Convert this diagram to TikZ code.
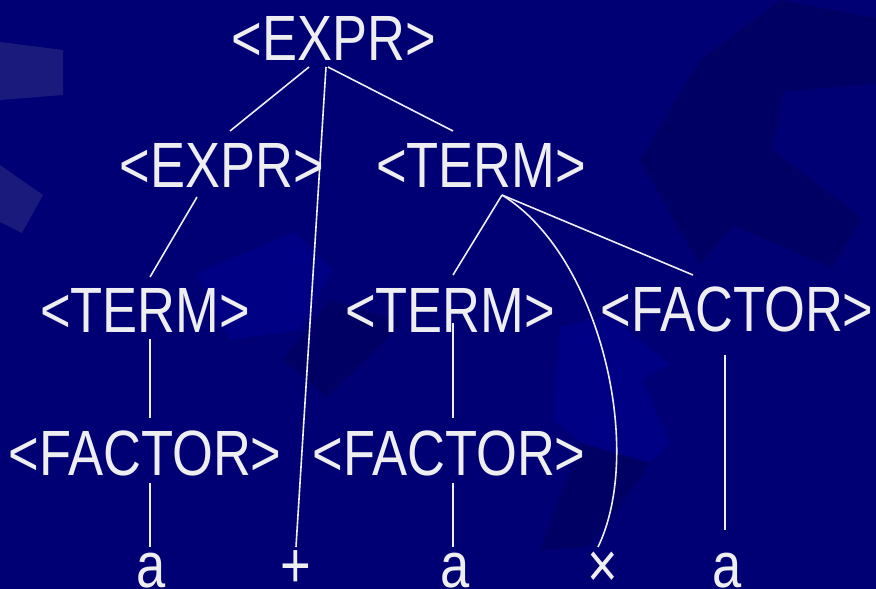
\documentclass[tikz,border=0pt]{standalone}
\usepackage{fontspec}
\usepackage{tikz}
\usetikzlibrary{calc}
\newfontfamily\slidefont[FakeStretch=0.82]{Liberation Sans}
\definecolor{slidebg}{RGB}{0,0,116}
\definecolor{slidedark}{RGB}{0,0,100}
\definecolor{slidelight}{RGB}{0,0,132}
\definecolor{slidegrey}{RGB}{26,26,124}
\definecolor{chalk}{RGB}{238,238,240}
\tikzset{
  sym/.style={text=chalk, font=\slidefont\fontsize{64}{70}\selectfont, inner sep=0pt, anchor=base},
  edge/.style={draw=chalk, line width=1.6pt},
}

\begin{document}
\begin{tikzpicture}[x=1pt, y=-1pt]
% background
\fill[slidebg] (0,0) rectangle (876,589);
\fill[slidegrey] (0,42) -- (63,50) -- (63,95) -- (0,100) -- cycle;
\fill[slidegrey] (0,165) -- (43,195) -- (22,233) -- (0,222) -- cycle;
\fill[slidedark] (780,0) -- (876,18) -- (876,83) -- (783,92) -- (772,150) -- (862,218) -- (832,268) -- (733,225) -- (700,265) -- (640,160) -- (700,60) -- cycle;
\fill[slidelight] (197,273) -- (295,232) -- (332,270) -- (300,330) -- (230,340) -- cycle;
\fill[slidedark] (283,360) -- (330,300) -- (403,323) -- (327,397) -- cycle;
\fill[slidelight] (560,327) -- (610,315) -- (670,365) -- (642,380) -- (670,443) -- (650,463) -- (582,443) -- (553,420) -- cycle;
\fill[slidedark] (580,443) -- (650,463) -- (617,510) -- (587,547) -- (540,550) -- cycle;

% parse tree
\node[sym] (root) at (334,60) {<EXPR>};
\node[sym] (expr) at (222,187) {<EXPR>};
\node[sym] (term) at (481,187) {<TERM>};
\node[sym] (termL) at (145,332) {<TERM>};
\node[sym] (termM) at (450,332) {<TERM>};
\node[sym] (factR) at (737,331) {<FACTOR>};
\node[sym] (factL) at (145,475) {<FACTOR>};
\node[sym] (factM) at (449,475) {<FACTOR>};
\node[sym] (a1) at (151,587) {a};
\node[sym] (plus) at (296,587) {+};
\node[sym] (a2) at (455,587) {a};
\node[sym] (times) at (603,587) {×};
\node[sym] (a3) at (727,587) {a};

\draw[edge] ($(root.base)+(-25,7)$) -- ($(expr.base)+(8,-56)$);
\draw[edge] ($(root.base)+(-8,7)$) -- ($(plus.base)+(0,-40)$);
\draw[edge] ($(root.base)+(-6,7)$) -- ($(term.base)+(-28,-56)$);
\draw[edge] ($(expr.base)+(-25,10)$) -- ($(termL.base)+(5,-55)$);
\draw[edge] ($(term.base)+(21,8)$) -- ($(termM.base)+(3,-57)$);
\draw[edge] ($(term.base)+(21,8)$) -- ($(factR.base)+(-44,-56)$);
\draw[edge] ($(term.base)+(21,8)$) .. controls ($(term.base)+(119,68)$) and ($(times.base)+(42,-137)$) .. ($(times.base)+(-5,-40)$);
\draw[edge] ($(termL.base)+(5,7)$) -- ($(factL.base)+(5,-57)$);
\draw[edge] ($(factL.base)+(5,8)$) -- ($(a1.base)+(-1,-40)$);
\draw[edge] ($(termM.base)+(3,-9)$) -- ($(factM.base)+(4,-57)$);
\draw[edge] ($(factM.base)+(4,8)$) -- ($(a2.base)+(-2,-40)$);
\draw[edge] ($(factR.base)+(-12,24)$) -- ($(a3.base)+(-2,-57)$);
\end{tikzpicture}
\end{document}
